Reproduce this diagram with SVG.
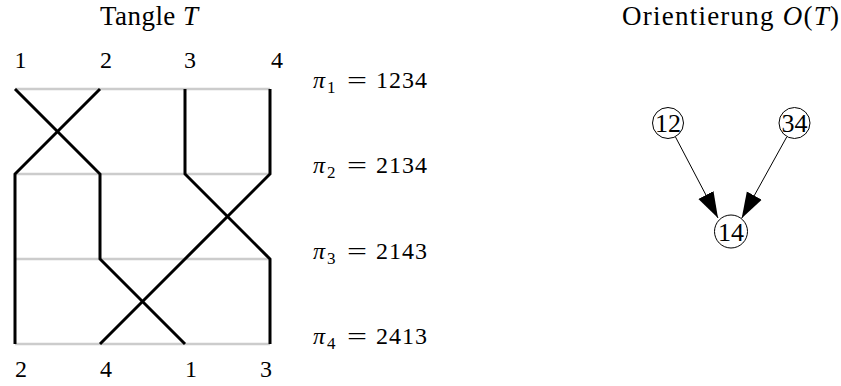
<svg xmlns="http://www.w3.org/2000/svg" width="841" height="386" viewBox="0 0 841 386" font-family="'Liberation Serif', serif">
<style>
svg text{font-family:'Liberation Serif','DejaVu Serif',serif;fill:#000}
.m{font-style:italic}
.title{font-size:27px}
.lab{font-size:24px;text-anchor:middle}
.pi{font-size:24px}
.sub{font-size:17px}
.row{stroke:#cccccc;stroke-width:2.5;fill:none}
.wire{stroke:#000;stroke-width:3;fill:none;stroke-linejoin:miter}
.edge{stroke:#000;stroke-width:1;fill:none}
.node circle{fill:#fff;stroke:#000;stroke-width:1}
.node text{font-size:26px;text-anchor:middle}
</style>
<defs>
<marker id="ah" markerUnits="userSpaceOnUse" markerWidth="26" markerHeight="18" refX="26" refY="9" orient="auto">
<path d="M0,0.5 L26,9 L0,17.5 z" fill="#000"/>
</marker>
</defs>
<rect width="841" height="386" fill="#fff"/>
<text class="title" x="100" y="25" textLength="98">Tangle <tspan class="m">T</tspan></text>
<text class="title" x="622" y="25" textLength="217">Orientierung <tspan class="m">O</tspan>(<tspan class="m">T</tspan>)</text>
<g id="rows">
<line class="row" x1="15" y1="89" x2="270" y2="89"/>
<line class="row" x1="15" y1="174" x2="270" y2="174"/>
<line class="row" x1="15" y1="259" x2="270" y2="259"/>
<line class="row" x1="15" y1="344" x2="270" y2="344"/>
</g>
<g id="wires">
<polyline class="wire" points="15,89 100,174 100,259 185,344"/>
<polyline class="wire" points="100,89 15,174 15,344"/>
<polyline class="wire" points="185,89 185,174 270,259 270,344"/>
<polyline class="wire" points="270,89 270,174 185,259 100,344"/>
</g>
<g id="top-labels">
<text class="lab" x="20.5" y="68">1</text>
<text class="lab" x="106" y="68">2</text>
<text class="lab" x="190" y="68">3</text>
<text class="lab" x="277" y="68">4</text>
</g>
<g id="bottom-labels">
<text class="lab" x="21" y="377">2</text>
<text class="lab" x="106" y="377">4</text>
<text class="lab" x="191" y="377">1</text>
<text class="lab" x="266" y="377">3</text>
</g>
<g id="perms" class="pi">
<text x="313" y="88"><tspan class="m">π</tspan></text><text class="sub" x="327" y="93">1</text><text x="347" y="88" textLength="20" lengthAdjust="spacingAndGlyphs">=</text><text x="376" y="88" textLength="51">1234</text>
<text x="313" y="173"><tspan class="m">π</tspan></text><text class="sub" x="327" y="178">2</text><text x="347" y="173" textLength="20" lengthAdjust="spacingAndGlyphs">=</text><text x="376" y="173" textLength="51">2134</text>
<text x="313" y="259"><tspan class="m">π</tspan></text><text class="sub" x="327" y="264">3</text><text x="347" y="259" textLength="20" lengthAdjust="spacingAndGlyphs">=</text><text x="376" y="259" textLength="51">2143</text>
<text x="313" y="344"><tspan class="m">π</tspan></text><text class="sub" x="327" y="349">4</text><text x="347" y="344" textLength="20" lengthAdjust="spacingAndGlyphs">=</text><text x="376" y="344" textLength="51">2413</text>
</g>
<g id="connectors">
<line class="edge" x1="675.5" y1="137" x2="718" y2="218" marker-end="url(#ah)"/>
<line class="edge" x1="786.7" y1="137" x2="741.7" y2="218.3" marker-end="url(#ah)"/>
</g>
<g id="n12" class="node">
<circle cx="668" cy="123" r="15.5"/>
<text x="668" y="132">12</text>
</g>
<g id="n34" class="node">
<circle cx="794.5" cy="123" r="15.5"/>
<text x="794.5" y="132">34</text>
</g>
<g id="n14" class="node">
<circle cx="731" cy="231.5" r="16.5"/>
<text x="731" y="241">14</text>
</g>
</svg>
